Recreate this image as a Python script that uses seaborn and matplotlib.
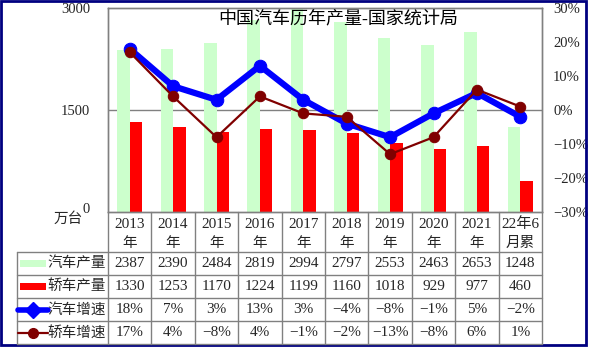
import numpy as np
import pandas as pd
import matplotlib
matplotlib.use("Agg")
import matplotlib.pyplot as plt
from matplotlib.lines import Line2D
from matplotlib.patches import Rectangle
import seaborn as sns

years = ["2013", "2014", "2015", "2016", "2017", "2018", "2019", "2020", "2021", "22年6"]
years_line2 = ["年", "年", "年", "年", "年", "年", "年", "年", "年", "月累"]
car_output = [2387, 2390, 2484, 2819, 2994, 2797, 2553, 2463, 2653, 1248]
sedan_output = [1330, 1253, 1170, 1224, 1199, 1160, 1018, 929, 977, 460]
car_growth = [18, 7, 3, 13, 3, -4, -8, -1, 5, -2]
sedan_growth = [17, 4, -8, 4, -1, -2, -13, -8, 6, 1]
series_names = ["汽车产量", "轿车产量", "汽车增速", "轿车增速"]
title = "中国汽车历年产量-国家统计局"

GREEN = "#CCFFCC"
RED = "#FF0000"
BLUE = "#0000FF"
DRED = "#800000"
GRID = "#808080"

sns.set_theme(style="white")
plt.rcParams["font.family"] = ["Liberation Serif", "Noto Sans CJK SC", "DejaVu Sans"]
plt.rcParams["axes.unicode_minus"] = True

W, H = 589, 347
fig = plt.figure(figsize=(W / 100, H / 100), dpi=100)
fx = lambda px: px / W
fy = lambda py: 1 - py / H

L, R, T, B = 108, 542, 8, 212
ax = fig.add_axes([fx(L), fy(B), (R - L) / W, (B - T) / H])

df = pd.DataFrame({
    "year": years * 2,
    "series": [series_names[0]] * len(years) + [series_names[1]] * len(years),
    "value": car_output + sedan_output,
})
sns.barplot(data=df, x="year", y="value", hue="series", order=years,
            hue_order=series_names[:2], palette=[GREEN, RED], width=0.58,
            linewidth=0, saturation=1, ax=ax, legend=False)
ax.set_ylim(0, 3000)
ax.set_yticks([0, 1500, 3000])
ax.set_yticklabels(["", "1500", "3000"])
ax.axhline(1500, color=GRID, lw=1, zorder=0.5)
ax.set_xlabel("")
ax.set_ylabel("")
ax.set_xticks([])
ax.tick_params(axis="y", length=0, pad=13, labelsize=10.5)
for s in ax.spines.values():
    s.set_color(GRID)
    s.set_linewidth(1)

ax2 = ax.twinx()
pos = np.arange(len(years))
sns.lineplot(x=pos, y=car_growth, ax=ax2, color=BLUE, lw=4.5, marker="o",
             markersize=9, markeredgecolor=BLUE, legend=False, zorder=3)
sns.lineplot(x=pos, y=sedan_growth, ax=ax2, color=DRED, lw=1.6, marker="o",
             markersize=7.5, markeredgecolor=DRED, legend=False, zorder=4)
ax2.set_ylim(-30, 30)
ax2.set_yticks(range(-30, 31, 10))
ax2.set_yticklabels([f"{v}%".replace("-", "\u2212") for v in range(-30, 31, 10)])
ax2.tick_params(axis="y", length=0, pad=8, labelsize=10.5)
for s in ax2.spines.values():
    s.set_color(GRID)
    s.set_linewidth(1)
ax.set_xlim(-0.5, len(years) - 0.5)
ax2.set_xlim(-0.5, len(years) - 0.5)

ax.text(0.53, 0.94, title, transform=ax.transAxes, ha="center", va="center",
        fontsize=13, color="black", zorder=10)

# y unit and zero
fig.text(fx(68), fy(219), "万台", ha="center", va="center", fontsize=10.5)
fig.text(fx(86), fy(210), "0", ha="center", va="center", fontsize=10.5)

# data table
cw = (R - L) / len(years)
lc = "#808080"
def hline(y, x0, x1):
    fig.add_artist(Line2D([fx(x0), fx(x1)], [fy(y), fy(y)], color=lc, lw=1))
def vline(x, y0, y1):
    fig.add_artist(Line2D([fx(x), fx(x)], [fy(y0), fy(y1)], color=lc, lw=1))

rows_y = [252, 275, 298, 321, 344]
for y in rows_y:
    hline(y, 17, R)
vline(17, 252, 344)
for i in range(len(years) + 1):
    vline(L + i * cw, B, 344)

for i in range(len(years)):
    cx = L + (i + 0.5) * cw
    fig.text(fx(cx), fy(224), years[i], ha="center", va="center", fontsize=11)
    fig.text(fx(cx), fy(243), years_line2[i], ha="center", va="center", fontsize=10.5)

def fmt_pct(v):
    return f"{v}%".replace("-", "\u2212")

table_rows = [
    [str(v) for v in car_output],
    [str(v) for v in sedan_output],
    [fmt_pct(v) for v in car_growth],
    [fmt_pct(v) for v in sedan_growth],
]
for r, vals in enumerate(table_rows):
    cy = (rows_y[r] + rows_y[r + 1]) / 2
    for i, v in enumerate(vals):
        cx = L + (i + 0.5) * cw
        fig.text(fx(cx), fy(cy), v, ha="center", va="center", fontsize=11)
    fig.text(fx(106), fy(cy), series_names[r], ha="right", va="center", fontsize=10.5)

# legend keys
cy0 = (rows_y[0] + rows_y[1]) / 2
fig.add_artist(Rectangle((fx(20), fy(cy0 + 3.5)), (46 - 20) / W, 7 / H,
                         transform=fig.transFigure, color=GREEN, lw=0))
cy1 = (rows_y[1] + rows_y[2]) / 2
fig.add_artist(Rectangle((fx(20), fy(cy1 + 3.5)), (46 - 20) / W, 7 / H,
                         transform=fig.transFigure, color=RED, lw=0))
cy2 = (rows_y[2] + rows_y[3]) / 2
fig.add_artist(Line2D([fx(18), fx(48)], [fy(cy2), fy(cy2)], color=BLUE, lw=4))
fig.add_artist(Line2D([fx(33)], [fy(cy2)], color=BLUE, marker="D", markersize=8))
cy3 = (rows_y[3] + rows_y[4]) / 2
fig.add_artist(Line2D([fx(18), fx(48)], [fy(cy3), fy(cy3)], color=DRED, lw=1.6))
fig.add_artist(Line2D([fx(33)], [fy(cy3)], color=DRED, marker="o", markersize=7))

# outer frame
fig.add_artist(Rectangle((fx(1), fy(345)), (586 - 1) / W, (345 - 1) / H,
                         transform=fig.transFigure, fill=False,
                         edgecolor="#000080", lw=2))

fig.savefig("out.png", dpi=100)
